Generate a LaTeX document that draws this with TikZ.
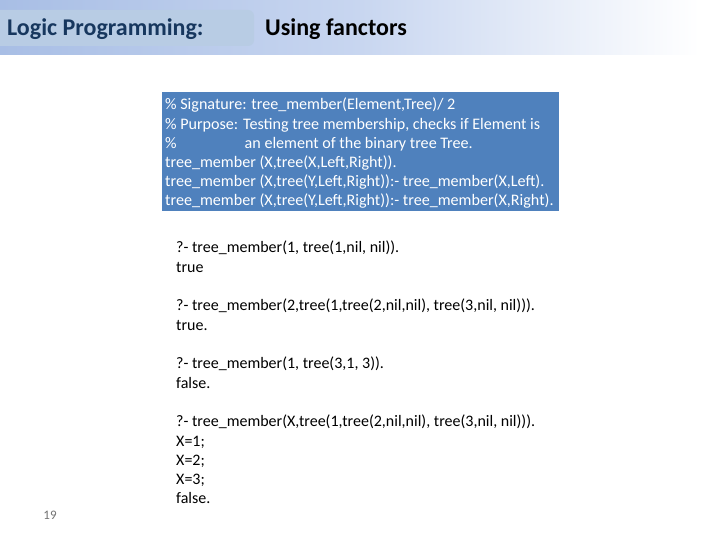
\documentclass[tikz,border=0pt]{standalone}
\usepackage{fontspec}
\setmainfont{Carlito}
\definecolor{bandleft}{RGB}{168,190,229}
\definecolor{bandmid}{RGB}{200,214,240}
\definecolor{titlebox}{RGB}{184,204,228}
\definecolor{titleblue}{RGB}{23,55,94}
\definecolor{codebox}{RGB}{79,129,189}
\tikzset{
	heading/.style={anchor=base west,inner sep=0pt,font=\fontsize{24}{28}\selectfont\bfseries},
	codetext/.style={anchor=north west,align=left,inner sep=0pt,font=\fontsize{16}{19.2}\selectfont},
}
\begin{document}
\begin{tikzpicture}[x=1pt,y=-1pt]
	\useasboundingbox (0,0) rectangle (720,540);
	\fill[white] (0,0) rectangle (720,540);
	\shade[left color=bandleft,right color=bandmid] (0,0) rectangle (360,55);
	\shade[left color=bandmid,right color=white] (360,0) rectangle (700,55);
	\fill[titlebox,rounded corners=6pt] (-8,10) rectangle (254,46);
	\node[heading,text=titleblue] (logic) at (7,36) {Logic Programming:};
	\node[heading,text=black] (fanctors) at (265,36) {Using fanctors};
	\fill[codebox] (162,92) rectangle (559,211);
	\node[codetext,text=white,font=\fontsize{16.1}{19.2}\selectfont] (signature) at (165,98) {\% Signature: tree\_member(Element,Tree)/ 2\\
		\% Purpose: Testing tree membership, checks if Element is\\
		\%\hspace{68pt}an element of the binary tree Tree.\\
		tree\_member (X,tree(X,Left,Right)).\\
		tree\_member (X,tree(Y,Left,Right)):- tree\_member(X,Left).\\
		tree\_member (X,tree(Y,Left,Right)):- tree\_member(X,Right).};
	\node[codetext] (firstquery) at (176,241) {?- tree\_member(1, tree(1,nil, nil)).\\true};
	\node[codetext] (secondquery) at (176,299) {?- tree\_member(2,tree(1,tree(2,nil,nil), tree(3,nil, nil))).\\true.};
	\node[codetext] (thirdquery) at (176,357) {?- tree\_member(1, tree(3,1, 3)).\\false.};
	\node[codetext] (fourthquery) at (176,415) {?- tree\_member(X,tree(1,tree(2,nil,nil), tree(3,nil, nil))).\\X=1;\\X=2;\\X=3;\\false.};
	\node[anchor=base,inner sep=0pt,text=black!55,font=\fontsize{13}{15}\selectfont] (pagenum) at (50,519) {19};
\end{tikzpicture}
\end{document}
